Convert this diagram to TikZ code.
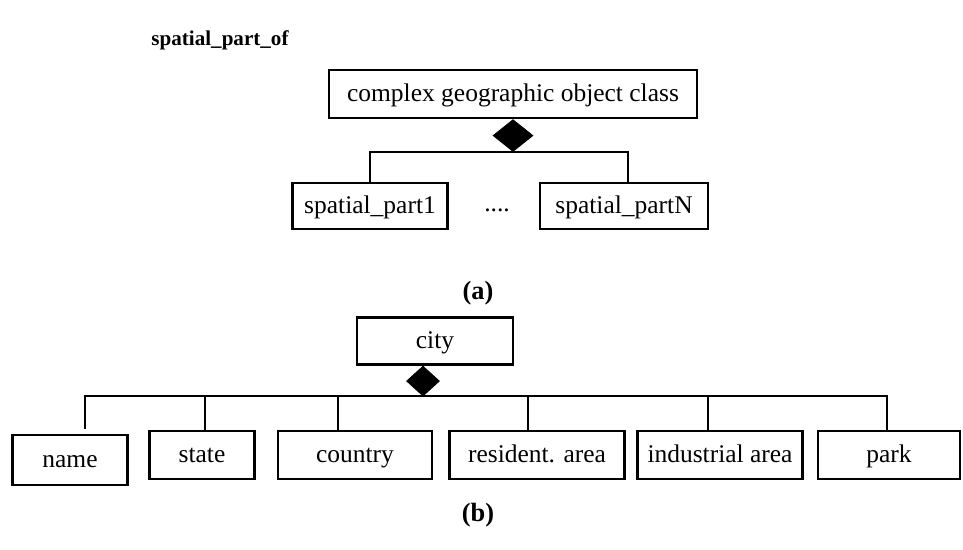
\documentclass[tikz,border=0pt]{standalone}
\usepackage{fontspec}
\setmainfont{Liberation Serif}
\usetikzlibrary{shapes.geometric,calc}

\begin{document}
\begin{tikzpicture}[x=0.02cm, y=-0.02cm,
    cls/.style={draw, line width=1.4pt, font=\fontsize{14.5}{17}\selectfont, text height=11pt, text depth=2.5pt, minimum height=0.96cm, inner sep=0pt},
    agg/.style={diamond, draw, fill=black, inner sep=0pt, anchor=north},
    link/.style={line width=1.1pt},
    caption/.style={font=\fontsize{15}{18}\selectfont\bfseries}]
				\useasboundingbox (0,0) rectangle (963,550);

				% Title
				\node[font=\fontsize{12}{14}\selectfont\bfseries] (title) at (220,40) {spatial\_part\_of};

				% (a) complex object and its parts
				\node[cls, minimum width=7.36cm] (complex) at (513,94) {complex geographic object class};
				\node[agg, minimum width=0.8cm, minimum height=0.64cm] (dia1) at (complex.south) {};

				\node[cls, minimum width=3.1cm, minimum height=0.92cm] (part1) at (370,206) {spatial\_part1};
				\node[cls, minimum width=3.36cm, minimum height=0.92cm] (partN) at (624,206) {spatial\_partN};
				\node[font=\fontsize{14.5}{17}\selectfont] (dots) at (497,210) {....};

				\draw[link] (part1.north) |- (dia1.south) -| ($(partN.north)+(4,0)$);

				\node[caption] (capa) at (478,293) {(a)};

				% (b) city and its parts
				\node[cls, minimum width=3.12cm, minimum height=0.94cm] (city) at (435,341) {city};
				\node[agg, minimum width=0.66cm, minimum height=0.6cm] (dia2) at ($(city.south)+(-12,0)$) {};

				\node[cls, minimum width=2.3cm, minimum height=1cm] (name) at (70,460) {name};
				\node[cls, minimum width=2.1cm] (state) at (202,455) {state};
				\node[cls, minimum width=3.08cm] (country) at (355,455) {country};
				\node[cls, minimum width=3.5cm] (resident) at (537,455) {resident. area};
				\node[cls, minimum width=3.3cm] (industrial) at (720,455) {industrial area};
				\node[cls, minimum width=2.84cm] (park) at (889,455) {park};

				\draw[link] ($(name.north)+(15,-5)$) |- (dia2.south);
				\draw[link] ($(state.north)+(3,0)$) |- (dia2.south);
				\draw[link] ($(country.north)+(-17,0)$) |- (dia2.south);
				\draw[link] ($(resident.north)+(-9,0)$) |- (dia2.south);
				\draw[link] ($(industrial.north)+(-12,0)$) |- (dia2.south);
				\draw[link] ($(park.north)+(-2,0)$) |- (dia2.south);

				\node[caption] (capb) at (478,515) {(b)};
\end{tikzpicture}
\end{document}
